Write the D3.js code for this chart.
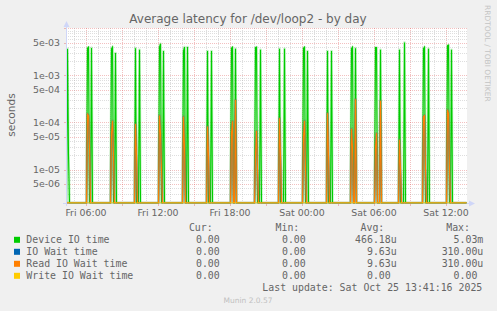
<!DOCTYPE html>
<html><head><meta charset="utf-8">
<script src="https://cdn.jsdelivr.net/npm/d3@7"></script>
<style>
html,body{margin:0;padding:0;background:#f0f0f0;}
svg{display:block;}
text{font-family:"DejaVu Sans",sans-serif;}
.mono{font-family:"DejaVu Sans Mono",monospace;}
</style></head><body>
<svg id="chart" width="497" height="311"></svg>
<script>
// ---------------- data ----------------
const titleText = "Average latency for /dev/loop2 - by day";
const yLabelText = "seconds";
const sideText = "RRDTOOL / TOBI OETIKER";
const footerText = "Munin 2.0.57";
const lastUpdateText = "Last update: Sat Oct 25 13:41:16 2025";

const rangeStart = "2025-10-24 04:20";
const rangeEnd = "2025-10-25 13:40";

// start time of each burst of activity (values every 5 minutes from here)
const burstStarts = [
  "2025-10-24 04:25", "2025-10-24 06:05", "2025-10-24 08:05", "2025-10-24 10:05",
  "2025-10-24 12:05", "2025-10-24 14:05", "2025-10-24 16:05", "2025-10-24 18:05",
  "2025-10-24 20:05", "2025-10-24 22:05", "2025-10-25 00:05", "2025-10-25 02:05",
  "2025-10-25 04:05", "2025-10-25 06:05", "2025-10-25 08:05", "2025-10-25 10:05",
  "2025-10-25 12:05"
];

// Device IO time (seconds), 5-minute samples in each burst
const deviceIOBursts = [
  [3.67e-3, 2e-5],
  [3.8e-3, 4.0e-3, 0, 0, 3.85e-3],
  [3.66e-3, 4.0e-3, 0, 0, 3.0e-3],
  [3.8e-3, 0, 0, 0, 3.5e-3],
  [4.0e-3, 4.7e-3, 0, 0, 3.3e-3],
  [3.3e-3, 4.0e-3, 0, 0, 4.0e-3],
  [3.3e-3, 0, 0, 0, 3.3e-3],
  [3.8e-3, 4.0e-3, 0, 0, 3.7e-3],
  [3.9e-3, 4.0e-3, 0, 0, 0, 3.5e-3],
  [3.7e-3, 0, 0, 0, 0, 3.7e-3],
  [3.8e-3, 4.0e-3, 0, 0, 3.3e-3],
  [3.3e-3, 0, 0, 0, 3.3e-3],
  [3.7e-3, 4.0e-3, 0, 0, 3.8e-3],
  [3.9e-3, 3.9e-3, 0, 0, 0, 3.5e-3],
  [3.5e-3, 0, 0, 0, 0, 5.03e-3],
  [3.7e-3, 4.0e-3, 0, 0, 0, 3.7e-3],
  [4.3e-3, 4.4e-3, 0, 0, 3.5e-3]
];

// Read IO wait time (seconds)
const readWaitBursts = [
  [0],
  [1.5e-4, 1.4e-4, 3e-5],
  [6e-5, 1.08e-4, 2e-5],
  [9.3e-5, 2e-5],
  [1.4e-4, 6e-5, 1e-5],
  [1.33e-4, 3e-5],
  [8.2e-5, 2e-5],
  [6e-5, 1.06e-4, 0, 0, 3.0e-4],
  [2e-5, 6.6e-5, 1e-5],
  [1.23e-4, 2e-5],
  [5e-5, 1.08e-4, 1e-5],
  [1.57e-4, 2e-5],
  [7.3e-5, 3e-5, 0, 0, 3.1e-4],
  [3e-5, 5.9e-5, 0, 0, 0, 2.9e-4],
  [4.3e-5, 1e-5],
  [1.33e-4, 1.4e-4, 1e-5],
  [1.85e-4, 1.57e-4, 1e-5]
];
// IO wait equals read wait (identical Avg/Max in legend)
const ioWaitBursts = readWaitBursts;
// Write IO wait stays at 0 for the whole range
const writeWaitValues = [0, 0];

const yTickValues = [5e-3, 1e-3, 5e-4, 1e-4, 5e-5, 1e-5, 5e-6];
const yTickLabels = ["5e-03", "1e-03", "5e-04", "1e-04", "5e-05", "1e-05", "5e-06"];

const seriesNames = ["Device IO time", "IO Wait time", "Read IO Wait time", "Write IO Wait time"];
const seriesColors = ["#00cc00", "#0066b3", "#ff8000", "#ffcc00"];
const curValues = ["0.00\u00a0", "0.00\u00a0", "0.00\u00a0", "0.00\u00a0"];
const minValues = ["0.00\u00a0", "0.00\u00a0", "0.00\u00a0", "0.00\u00a0"];
const avgValues = ["466.18u", "9.63u", "9.63u", "0.00\u00a0"];
const maxValues = ["5.03m", "310.00u", "310.00u", "0.00\u00a0"];
const legendHeaders = ["Cur:", "Min:", "Avg:", "Max:"];

// ---------------- drawing ----------------
const svg = d3.select("#chart");
const parse = d3.timeParse("%Y-%m-%d %H:%M");
const L = 66, R = 466, T = 28, B = 203;

const x = d3.scaleTime().domain([parse(rangeStart), parse(rangeEnd)]).range([L, R]);
const y = d3.scaleLog().domain([1.94e-6, 1.02e-2]).range([B, T]).clamp(true);
const yPos = v => v > 0 ? y(v) : y.range()[0];

const majorGrid = "rgba(222,79,79,0.6)";
const minorGrid = "rgba(143,143,143,0.75)";
const fontColor = "#666666";
const axisColor = "#cfd6f8";

// canvas
svg.append("rect").attr("x", L).attr("y", T).attr("width", R - L + 1).attr("height", B - T).attr("fill", "#ffffff");

// horizontal grid
const gGrid = svg.append("g");
const gridVals = [];
for (let e = -6; e <= -2; e++) for (let m = 1; m <= 9; m++) {
  const v = m * Math.pow(10, e);
  if (v >= y.domain()[0] && v <= y.domain()[1]) gridVals.push([v, m]);
}
gridVals.forEach(([v, m]) => {
  const major = (m === 1 || m === 5);
  const yy = Math.round(y(v)) + 0.5;
  gGrid.append("line").attr("x1", L).attr("x2", R + 1).attr("y1", yy).attr("y2", yy)
    .attr("stroke", major ? majorGrid : minorGrid)
    .attr("stroke-dasharray", "1,1").attr("stroke-width", major ? 0.6 : 0.4);
  if (major) {
    gGrid.append("line").attr("x1", L - 2).attr("x2", L).attr("y1", yy).attr("y2", yy)
      .attr("stroke", majorGrid).attr("stroke-width", 0.6);
  }
});

// vertical grid
const hours = d3.timeHour.every(1).range(x.domain()[0], d3.timeMinute.offset(x.domain()[1], 1));
hours.forEach(h => {
  const major = h.getHours() % 3 === 0;
  const xx = Math.round(x(h)) + 0.5;
  gGrid.append("line").attr("x1", xx).attr("x2", xx).attr("y1", T).attr("y2", B)
    .attr("stroke", major ? majorGrid : minorGrid)
    .attr("stroke-dasharray", "1,1").attr("stroke-width", major ? 0.6 : 0.4);
  if (major) {
    gGrid.append("line").attr("x1", xx).attr("x2", xx).attr("y1", B).attr("y2", B + 3)
      .attr("stroke", majorGrid).attr("stroke-width", 0.6);
  }
});

// x labels
const fmt = d3.timeFormat("%a %H:%M");
hours.filter(h => h.getHours() % 6 === 0).forEach(h => {
  svg.append("text").attr("x", x(h)).attr("y", 215.5).attr("text-anchor", "middle")
    .attr("font-size", "9.4px").attr("fill", fontColor).text(fmt(h));
});

// y labels
yTickValues.forEach((v, i) => {
  svg.append("text").attr("x", 60).attr("y", y(v) + 3.3).attr("text-anchor", "end")
    .attr("font-size", "9.4px").attr("fill", fontColor).text(yTickLabels[i]);
});

// axes (drawn before series so the zero-valued series sit on the x axis)
svg.append("line").attr("x1", L + 0.5).attr("x2", L + 0.5).attr("y1", 24).attr("y2", B + 3).attr("stroke", axisColor);
svg.append("path").attr("d", `M${L - 2.5},27 L${L + 3.5},27 L${L + 0.5},21 Z`).attr("fill", axisColor);
svg.append("line").attr("x1", L - 3).attr("x2", R + 4).attr("y1", B + 0.5).attr("y2", B + 0.5)
  .attr("stroke", axisColor);
svg.append("path").attr("d", `M${R + 3},${B - 2.5} L${R + 3},${B + 3.5} L${R + 9},${B + 0.5} Z`).attr("fill", axisColor);

// series
function burstPoints(bursts) {
  const pts = [[parse(rangeStart), 0]];
  bursts.forEach((b, i) => {
    const t0 = parse(burstStarts[i]);
    pts.push([d3.timeMinute.offset(t0, -5), 0]);
    b.forEach((v, k) => pts.push([d3.timeMinute.offset(t0, 5 * k), v]));
    pts.push([d3.timeMinute.offset(t0, 5 * b.length), 0]);
  });
  pts.push([parse(rangeEnd), 0]);
  return pts;
}
const writePts = [[parse(rangeStart), writeWaitValues[0]], [parse(rangeEnd), writeWaitValues[1]]];

svg.append("clipPath").attr("id", "clip").append("rect")
  .attr("x", L + 1).attr("y", T - 1).attr("width", R - L + 1).attr("height", B - T + 1.5);
const line = d3.line().x(d => x(d[0]) + 0.5).y(d => yPos(d[1]));
const gSeries = svg.append("g").attr("clip-path", "url(#clip)");
[burstPoints(deviceIOBursts), burstPoints(ioWaitBursts), burstPoints(readWaitBursts), writePts]
  .forEach((pts, i) => {
    if (i < 3) {
      // soft anti-aliased halo, like the rrdtool rendering of steep slopes
      gSeries.append("path").attr("d", line(pts)).attr("fill", "none")
        .attr("stroke", seriesColors[i]).attr("stroke-width", 2.6).attr("stroke-opacity", 0.25)
        .attr("stroke-linejoin", "round");
    }
    gSeries.append("path").attr("d", line(pts)).attr("fill", "none")
      .attr("stroke", seriesColors[i]).attr("stroke-width", 1.1);
  });

// title
svg.append("text").attr("x", 248).attr("y", 22.7).attr("text-anchor", "middle")
  .attr("font-size", "12px").attr("fill", fontColor).text(titleText);
// y label
svg.append("text").attr("transform", "translate(15,115) rotate(-90)").attr("text-anchor", "middle")
  .attr("font-size", "10.6px").attr("fill", fontColor).text(yLabelText);
// side text
svg.append("text").attr("transform", "translate(485,5) rotate(90)").attr("text-anchor", "start")
  .attr("font-size", "7.5px").attr("fill", "#c4c4c4").text(sideText);

// legend
const lg = svg.append("g").attr("class", "mono").attr("font-size", "9.9px").attr("fill", fontColor);
const headerX = [212.7, 299.3, 384.3, 470];
const colX = [225.7, 311.7, 396.7, 483.3];
legendHeaders.forEach((h, i) => {
  lg.append("text").attr("class", "mono").attr("x", headerX[i]).attr("y", 231).attr("text-anchor", "end").text(h);
});
seriesNames.forEach((n, i) => {
  const by = 243.3 + i * 12;
  lg.append("rect").attr("x", 14).attr("y", by - 6.5).attr("width", 6).attr("height", 6).attr("fill", seriesColors[i]);
  lg.append("text").attr("class", "mono").attr("x", 26.3).attr("y", by).text(n);
  [curValues, minValues, avgValues, maxValues].forEach((arr, j) => {
    lg.append("text").attr("class", "mono").attr("x", colX[j]).attr("y", by).attr("text-anchor", "end").text(arr[i]);
  });
});
lg.append("text").attr("class", "mono").attr("x", 482.3).attr("y", 291).attr("text-anchor", "end").text(lastUpdateText);
svg.append("text").attr("x", 248).attr("y", 303).attr("text-anchor", "middle")
  .attr("font-size", "7.5px").attr("fill", "#c0c0c0").text(footerText);
</script>
</body></html>
